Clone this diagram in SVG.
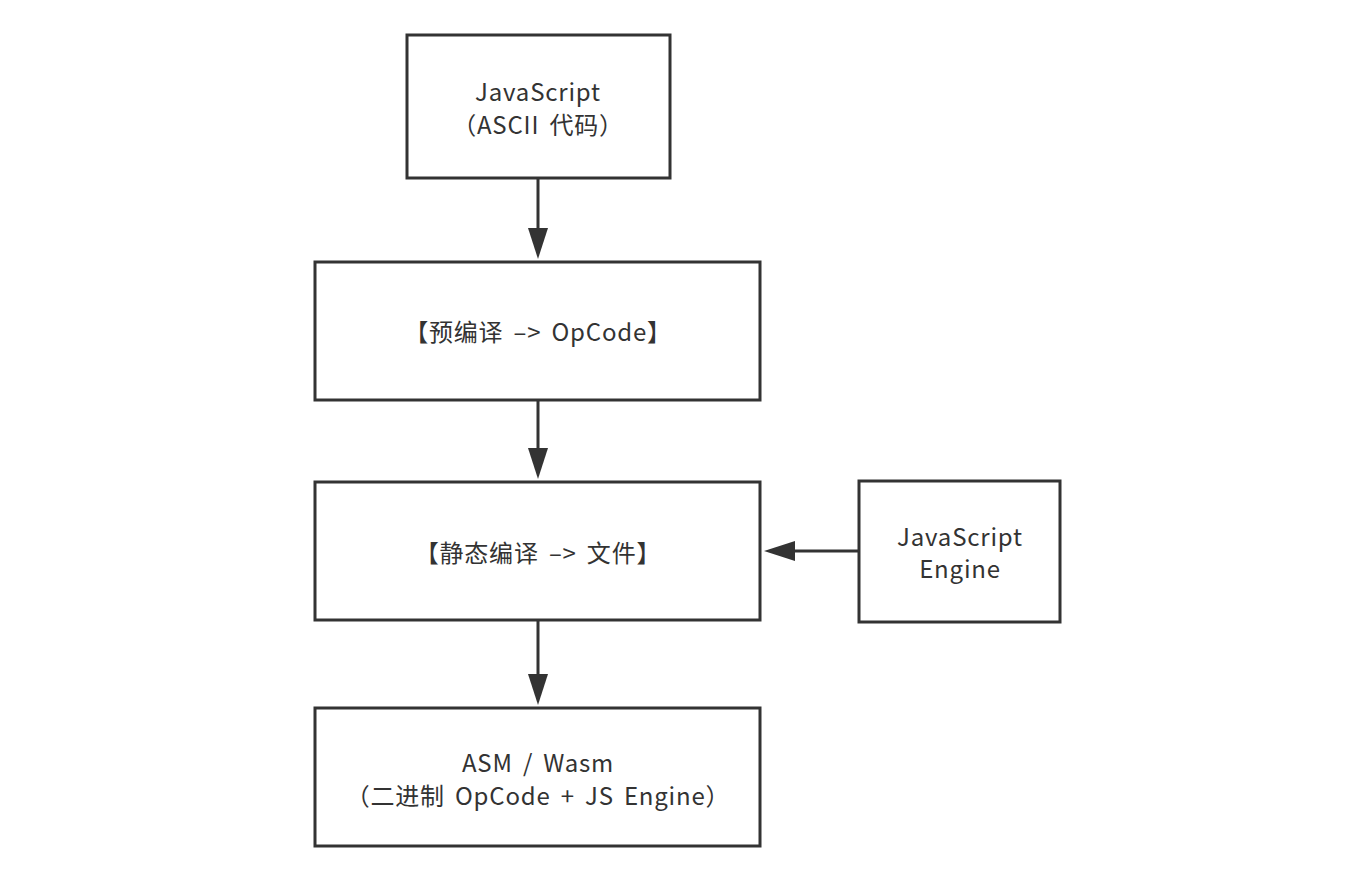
<svg xmlns="http://www.w3.org/2000/svg" width="1348" height="890" viewBox="0 0 1348 890">
<defs>
<style>
.box{fill:#fff;stroke:#333;stroke-width:3}
.lbl{font-family:"Noto Sans CJK SC","Noto Sans",sans-serif;font-size:24px;fill:#333;text-anchor:middle;letter-spacing:0.8px;word-spacing:4px}
.edge{stroke:#333;stroke-width:3;fill:none}
</style>
</defs>
<rect width="1348" height="890" fill="#fff"/>
<g id="n1"><rect class="box" x="407" y="35" width="263" height="143"/>
<text class="lbl" x="538" y="101">JavaScript</text>
<text class="lbl" x="538" y="134">（ASCII 代码）</text></g>
<g id="n2"><rect class="box" x="315" y="262" width="445" height="138"/>
<text class="lbl" x="538" y="341">【预编译 –&gt; OpCode】</text></g>
<g id="n3"><rect class="box" x="315" y="482" width="445" height="138"/>
<text class="lbl" x="538" y="562">【静态编译 –&gt; 文件】</text></g>
<g id="n4"><rect class="box" x="859" y="481" width="201" height="141"/>
<text class="lbl" x="960" y="546">JavaScript</text>
<text class="lbl" x="960" y="578">Engine</text></g>
<g id="n5"><rect class="box" x="315" y="708" width="445" height="138"/>
<text class="lbl" x="538" y="772">ASM / Wasm</text>
<text class="lbl" x="538" y="805">（二进制 OpCode + JS Engine）</text></g>
<g id="edges">
<line class="edge" x1="538" y1="178" x2="538" y2="232"/>
<path d="M528,228 L548,228 L538,259 Z" fill="#333"/>
<line class="edge" x1="538" y1="400" x2="538" y2="452"/>
<path d="M528,448 L548,448 L538,479 Z" fill="#333"/>
<line class="edge" x1="538" y1="620" x2="538" y2="678"/>
<path d="M528,674 L548,674 L538,705 Z" fill="#333"/>
<line class="edge" x1="859" y1="551" x2="790" y2="551"/>
<path d="M795,541 L795,561 L764,551 Z" fill="#333"/>
</g>
</svg>
